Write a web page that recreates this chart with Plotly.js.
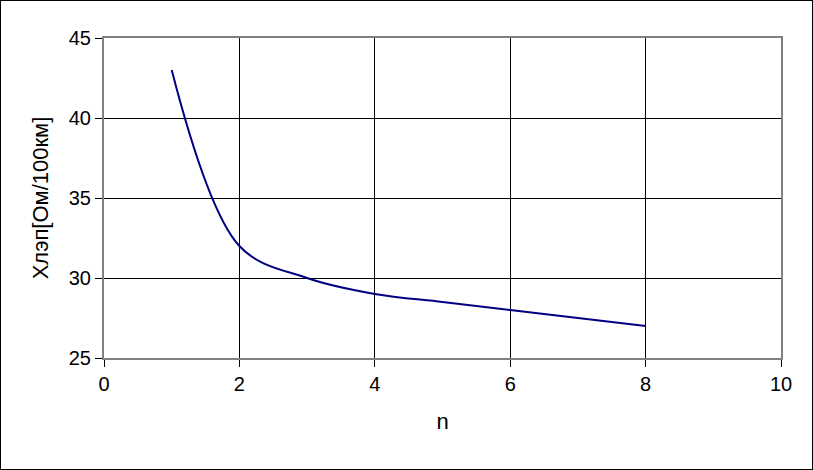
<!DOCTYPE html>
<html>
<head>
<meta charset="utf-8">
<script src="https://cdn.plot.ly/plotly-3.0.1.min.js"></script>
<style>
html,body{margin:0;padding:0;background:#fff;}
#chart{width:811px;height:468px;border:1px solid #000;}
</style>
</head>
<body>
<div id="chart"></div>
<script>
var nValues = [1, 2, 3, 4, 5, 6, 7, 8];
var xlepValues = [43, 32, 30.0, 29, 28.5, 28, 27.5, 27];
var xTicks = [0, 2, 4, 6, 8, 10];
var yTicks = [25, 30, 35, 40, 45];
var xTitle = 'n';
var yTitle = 'Хлэп[Ом/100км]';

var trace = {
  x: nValues,
  y: xlepValues,
  type: 'scatter',
  mode: 'lines',
  line: {color: '#000080', width: 2, shape: 'spline', smoothing: 1},
  hoverinfo: 'skip'
};

var tickFont = {family: 'Liberation Sans, Arial, sans-serif', size: 20, color: '#000'};
var titleFont = {family: 'Liberation Sans, Arial, sans-serif', size: 22, color: '#000'};

var layout = {
  width: 811,
  height: 468,
  margin: {l: 103, r: 31, t: 37, b: 111},
  paper_bgcolor: '#fff',
  plot_bgcolor: '#fff',
  showlegend: false,
  xaxis: {
    range: [0, 10],
    tickvals: xTicks,
    ticktext: xTicks.map(String),
    showgrid: true,
    gridcolor: '#000',
    gridwidth: 1,
    zeroline: false,
    showline: true,
    linecolor: '#808080',
    linewidth: 2,
    mirror: true,
    ticks: 'outside',
    ticklen: 7,
    tickcolor: '#000',
    tickfont: tickFont,
    title: {text: xTitle, font: titleFont, standoff: 20}
  },
  yaxis: {
    range: [25, 45],
    tickvals: yTicks,
    ticktext: yTicks.map(String),
    showgrid: true,
    gridcolor: '#000',
    gridwidth: 1,
    zeroline: false,
    showline: true,
    linecolor: '#808080',
    linewidth: 2,
    mirror: true,
    ticks: 'outside',
    ticklen: 7,
    tickcolor: '#000',
    tickfont: tickFont,
    title: {text: yTitle, font: titleFont, standoff: 14}
  }
};

Plotly.newPlot('chart', [trace], layout, {staticPlot: true, displayModeBar: false});
</script>
</body>
</html>
